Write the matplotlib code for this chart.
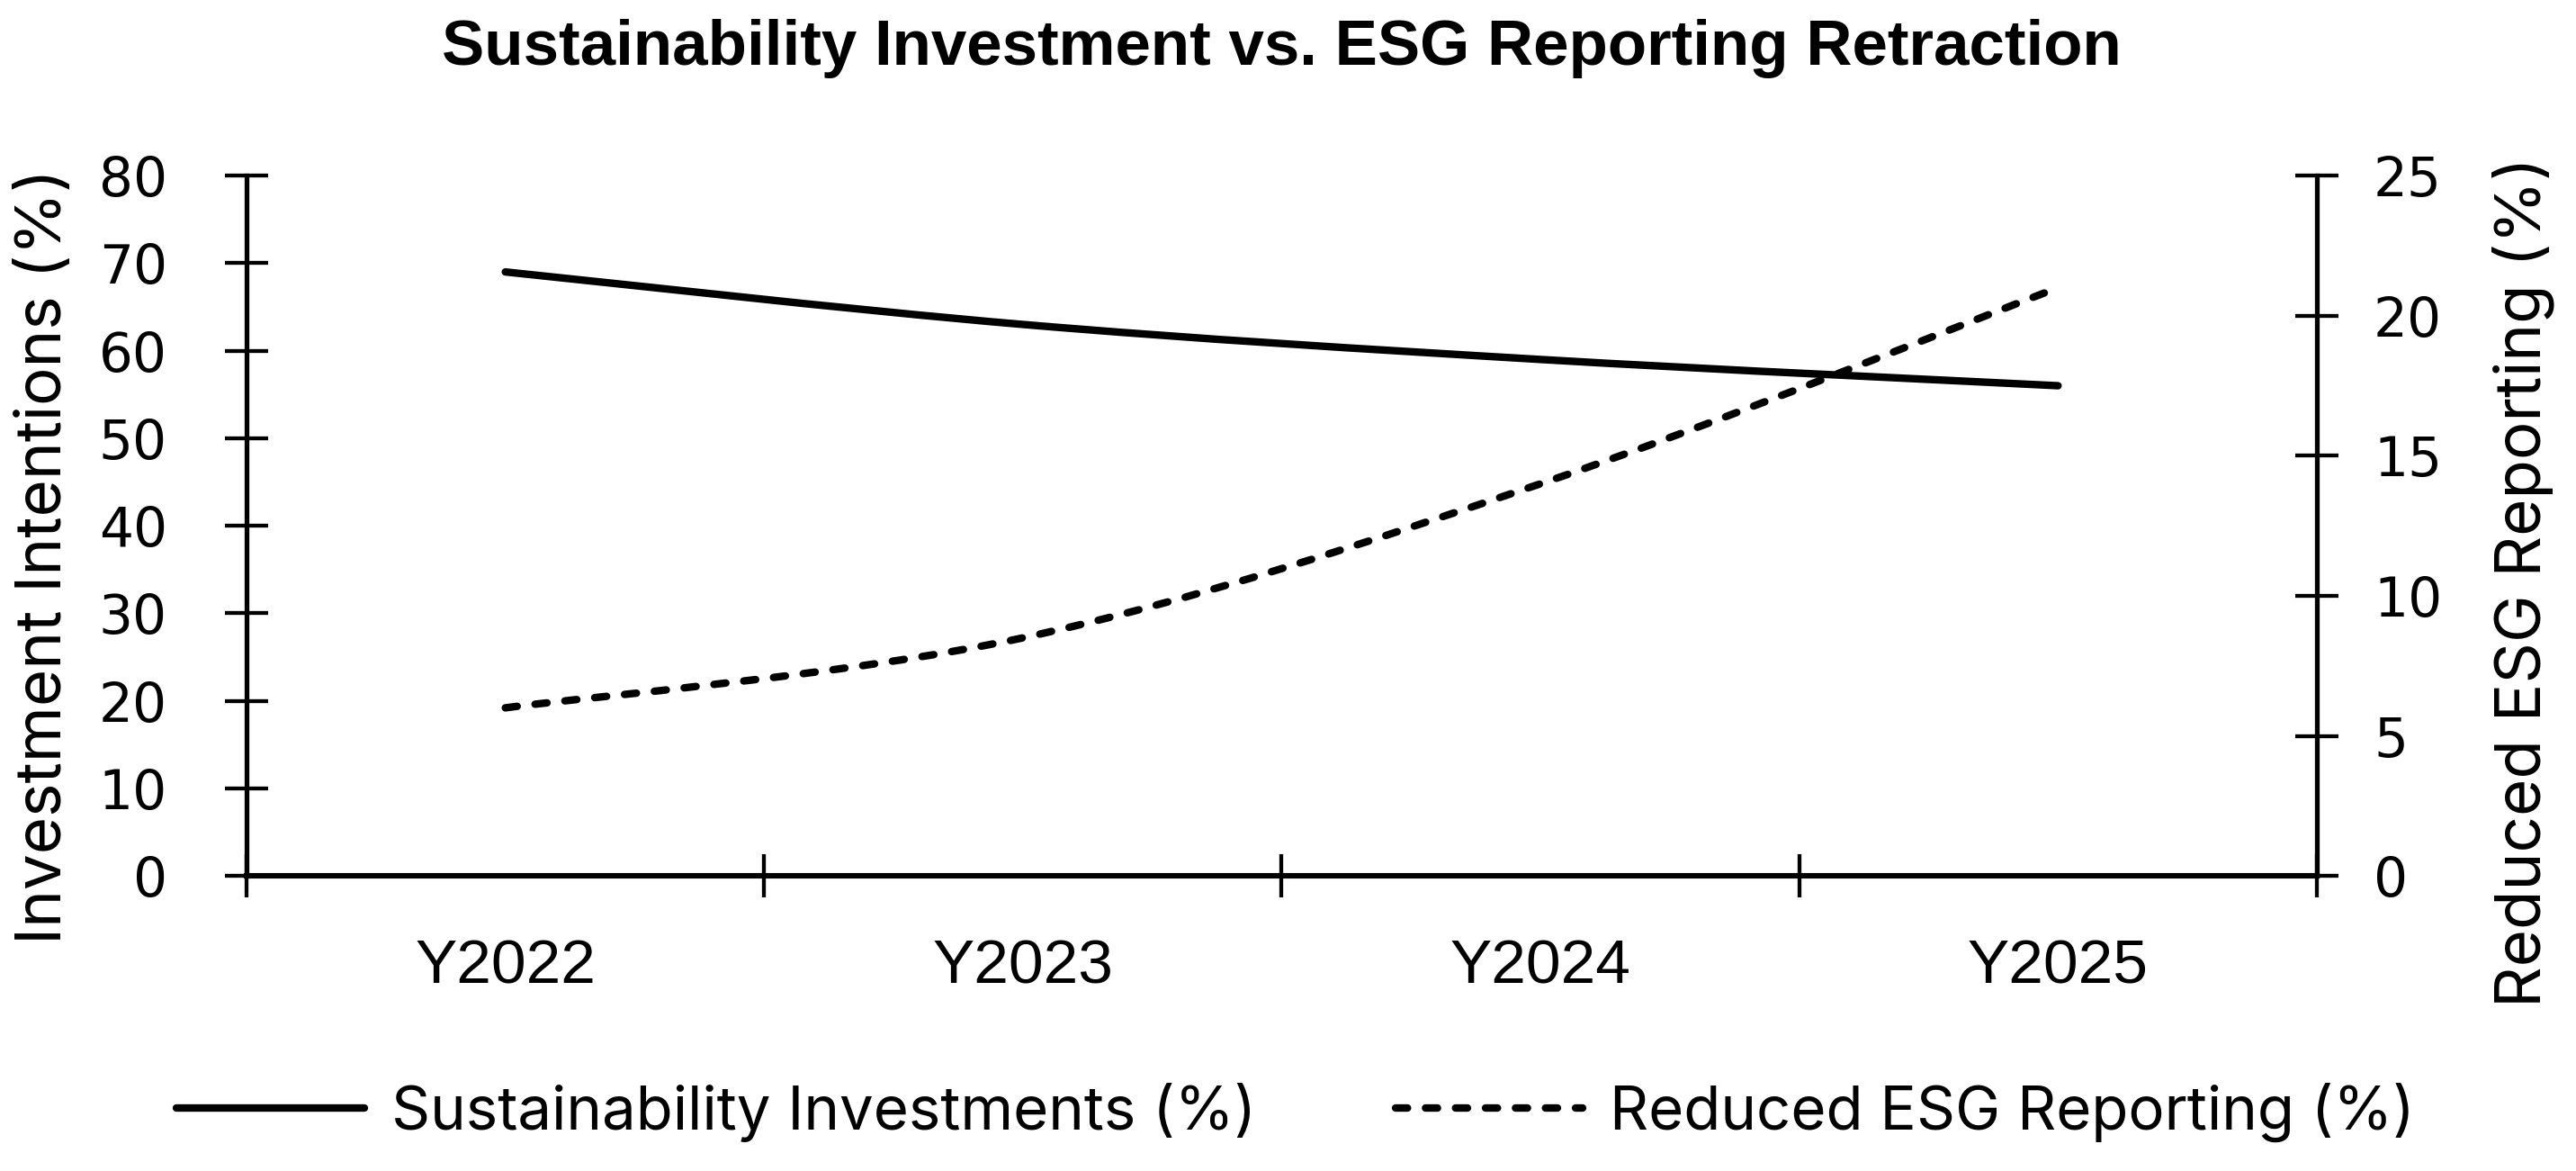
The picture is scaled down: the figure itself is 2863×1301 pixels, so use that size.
import numpy as np
import matplotlib
matplotlib.use("Agg")
import matplotlib.pyplot as plt
from matplotlib.path import Path
from matplotlib.patches import PathPatch
from matplotlib.lines import Line2D

categories = ["Y2022", "Y2023", "Y2024", "Y2025"]
sustainability = [69, 63, 59, 56]
reduced_esg = [6, 8.5, 14, 21]
left_ticks = list(range(0, 81, 10))
right_ticks = list(range(0, 26, 5))

plt.rcParams['font.family'] = ["Liberation Sans", "DejaVu Sans"]
LABEL_FONT = ["Inter", "DejaVu Sans"]
YTICK_FONT = ["DejaVu Sans"]

fig = plt.figure(figsize=(14.315, 6.505), dpi=200)
ax = fig.add_axes([0.0957, 0.252, 0.8037, 0.598])
ax2 = ax.twinx()

def smooth_path(xs, ys):
    pts = np.column_stack([xs, ys]).astype(float)
    n = len(pts)
    verts = [pts[0]]
    codes = [Path.MOVETO]
    for i in range(n - 1):
        p0 = pts[max(i - 1, 0)]
        p1 = pts[i]
        p2 = pts[i + 1]
        p3 = pts[min(i + 2, n - 1)]
        c1 = p1 + (p2 - p0) / 6.0
        c2 = p2 - (p3 - p1) / 6.0
        verts += [c1, c2, p2]
        codes += [Path.CURVE4] * 3
    return Path(verts, codes)

x = np.arange(len(categories))
lw = 3.0
dash = (0, (1.6, 2.4))
p1 = PathPatch(smooth_path(x, sustainability), fill=False, edgecolor="black",
               linewidth=lw, capstyle="round", joinstyle="round", zorder=3)
ax.add_patch(p1)
p2 = PathPatch(smooth_path(x, reduced_esg), fill=False, edgecolor="black",
               linewidth=lw, linestyle=dash, capstyle="round",
               joinstyle="round", zorder=3)
ax2.add_patch(p2)

ax.set_xlim(-0.5, len(categories) - 0.5)
ax.set_ylim(0, 80)
ax2.set_ylim(0, 25)
ax.set_yticks(left_ticks)
ax2.set_yticks(right_ticks)
ax.set_xticks(x)
ax.set_xticklabels(categories, fontsize=25)
ax.set_xticks(np.arange(-0.5, len(categories), 1.0), minor=True)

tick_len, tick_w = 17.4, 1.55
ax.tick_params(axis='x', which='major', length=0, pad=25)
ax.tick_params(axis='x', which='minor', direction='inout', length=tick_len, width=tick_w)
ax.tick_params(axis='y', direction='inout', length=tick_len, width=tick_w, pad=23)
ax2.tick_params(axis='y', direction='inout', length=tick_len, width=tick_w, pad=14)
for lab in ax.get_yticklabels() + ax2.get_yticklabels():
    lab.set_fontfamily(YTICK_FONT)
    lab.set_fontsize(21.5)

for a in (ax, ax2):
    a.spines['top'].set_visible(False)
    for s in a.spines.values():
        s.set_linewidth(1.9)
ax2.spines['left'].set_visible(False)
ax2.spines['bottom'].set_visible(False)
ax.spines['right'].set_visible(False)
ax.spines['bottom'].set_linewidth(2.2)

ax.set_ylabel("Investment Intentions (%)", fontsize=25.5, family=LABEL_FONT, labelpad=10)
ax2.set_ylabel("Reduced ESG Reporting (%)", fontsize=25.5, family=LABEL_FONT, labelpad=20)
ax.yaxis.label.set_y(0.457)
ax2.yaxis.label.set_y(0.42)
fig.text(0.4975, 1 - 72 / 1301, "Sustainability Investment vs. ESG Reporting Retraction",
         fontsize=25.5, fontweight='bold', ha='center', va='baseline')

h1 = Line2D([], [], color='black', linewidth=lw, solid_capstyle='round')
h2 = Line2D([], [], color='black', linewidth=lw, linestyle=dash,
            dash_capstyle='round')
fig.legend([h1, h2], ["Sustainability Investments (%)", "Reduced ESG Reporting (%)"],
           loc='center', bbox_to_anchor=(0.503, 0.05), ncol=2, frameon=False,
           prop={'family': LABEL_FONT, 'size': 24.2},
           handlelength=3.1, handletextpad=0.45, columnspacing=2.3)

fig.savefig("out.png", dpi=200)
